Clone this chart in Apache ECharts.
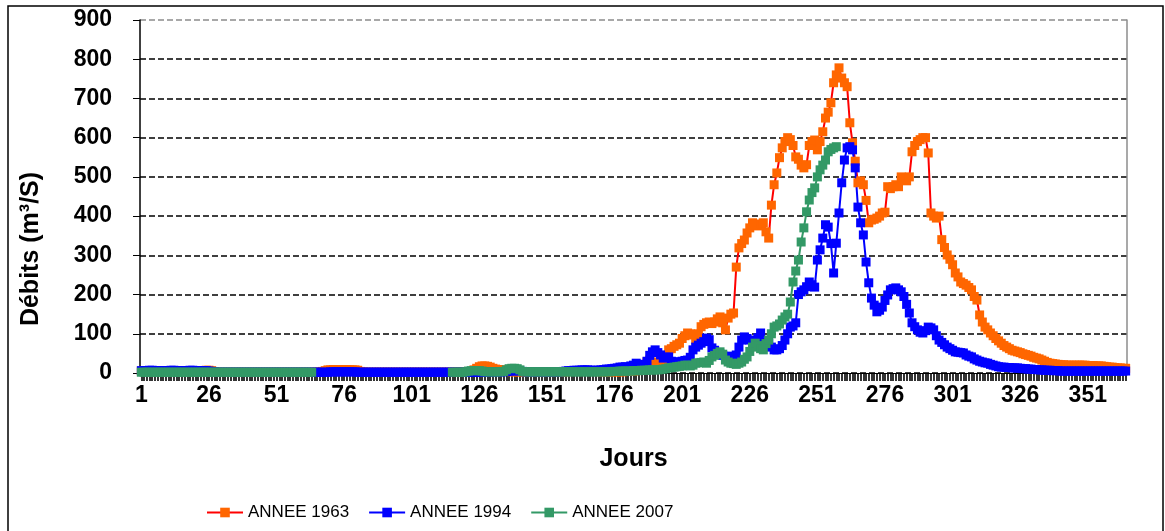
<!DOCTYPE html>
<html>
<head>
<meta charset="utf-8">
<script src="https://cdn.jsdelivr.net/npm/echarts@6/dist/echarts.min.js"></script>
<style>
html,body{margin:0;padding:0;background:#fff;}
#c{width:1165px;height:531px;}
</style>
</head>
<body>
<div id="c"></div>
<script>
// Days of the year (category axis)
const days = Array.from({length: 365}, (_, i) => String(i + 1));

const seriesNames = ['ANNEE 1963', 'ANNEE 1994', 'ANNEE 2007'];
const yAxisTitle = 'Débits (m³/S)';
const xAxisTitle = 'Jours';

// ANNEE 1963 (day 1..365)
const annee1963 = [
  5,5,6,6,5,5,5,5,6,6,            // 1-10
  6,5,5,5,5,5,6,6,6,6,            // 11-20
  5,5,5,6,7,7,6,3,2,2,            // 21-30
  2,2,2,2,2,2,2,2,2,2,            // 31-40
  2,2,2,2,2,2,2,2,2,2,            // 41-50
  2,2,2,2,2,2,2,2,2,2,            // 51-60
  2,2,2,2,2,2,3,4,6,8,            // 61-70
  8,9,9,9,9,9,9,8,8,8,            // 71-80
  7,4,3,2,2,2,2,2,2,2,            // 81-90
  2,2,2,2,2,2,2,2,2,2,            // 91-100
  2,2,2,2,2,2,2,2,2,2,            // 101-110
  2,2,2,2,2,2,3,3,3,3,            // 111-120
  3,3,4,8,12,16,18,18,17,15,      // 121-130
  12,10,9,8,8,5,4,3,3,3,          // 131-140
  3,3,3,3,3,3,3,3,3,3,            // 141-150
  3,3,3,3,3,3,3,3,4,4,            // 151-160
  5,5,6,6,6,6,6,5,5,4,            // 161-170
  3,3,3,3,3,3,3,3,3,4,            // 171-180
  4,5,5,6,7,8,15,28,33,28,        // 181-190
  22,20,25,30,45,59,62,68,72,76,  // 191-200
  88,95,102,100,97,84,100,118,124,128,   // 201-210
  130,126,130,138,143,128,110,140,150,153, // 211-220
  270,319,330,339,357,370,383,378,375,380, // 221-230
  383,360,344,428,480,510,549,574,590,600, // 231-240
  595,580,551,545,530,523,531,580,590,594, // 241-250
  569,590,615,650,665,689,740,760,778,752, // 251-260
  740,730,638,587,540,485,490,480,440,383, // 261-270
  390,392,395,400,408,410,475,470,475,480, // 271-280
  475,500,495,490,500,564,580,590,595,600, // 281-290
  600,561,408,400,395,400,340,320,301,290, // 291-300
  276,255,245,232,228,224,218,212,195,186, // 301-310
  148,130,117,110,102,95,88,82,76,70,      // 311-320
  66,62,58,56,54,52,49,47,45,43,           // 321-330
  40,38,36,33,30,27,25,24,23,22,           // 331-340
  21,21,20,20,20,20,20,20,20,20,           // 341-350
  19,19,19,18,18,18,17,16,15,15,           // 351-360
  14,13,13,12,12                           // 361-365
];

// ANNEE 1994 (day 1..365)
const annee1994 = [
  6,6,6,7,7,6,6,6,6,6,            // 1-10
  6,7,7,6,6,6,6,6,7,7,            // 11-20
  6,6,6,6,6,5,4,3,2,2,            // 21-30
  2,2,2,2,2,2,2,2,2,2,            // 31-40
  2,2,2,2,2,2,2,2,2,2,            // 41-50
  2,2,2,2,2,2,2,2,2,2,            // 51-60
  2,2,2,2,2,2,2,2,2,2,            // 61-70
  3,3,3,3,3,3,3,3,3,3,            // 71-80
  2,2,2,2,2,2,2,2,2,2,            // 81-90
  2,2,2,2,2,2,2,2,2,2,            // 91-100
  2,2,2,2,2,2,2,2,2,2,            // 101-110
  2,2,2,2,2,2,2,2,2,2,            // 111-120
  2,2,2,2,2,2,2,2,2,3,            // 121-130
  3,3,3,3,3,4,5,5,6,6,            // 131-140
  5,4,3,3,3,3,3,3,3,3,            // 141-150
  3,3,3,3,3,3,4,5,6,6,            // 151-160
  7,7,7,8,8,8,7,7,7,7,            // 161-170
  8,9,10,10,11,12,13,15,15,16,    // 171-180
  15,18,20,25,22,20,22,30,45,54,  // 181-190
  59,52,46,38,40,41,30,28,28,28,  // 191-200
  30,32,33,40,59,66,71,76,80,89,  // 201-210
  85,64,58,51,48,45,41,43,40,38,  // 211-220
  46,66,84,92,88,84,70,76,90,102, // 221-230
  80,71,76,66,59,59,62,70,84,100, // 231-240
  117,120,128,200,207,212,220,232,225,219, // 241-250
  288,314,344,378,372,330,255,331,408,485, // 251-260
  543,574,577,569,523,423,383,352,283,230, // 261-270
  191,173,156,160,168,185,199,212,215,217, // 271-280
  212,207,195,175,153,128,118,110,104,102, // 281-290
  108,117,115,110,95,84,78,72,66,62,       // 291-300
  58,54,53,52,51,46,43,41,36,33,           // 301-310
  30,28,26,25,22,20,18,16,15,15,           // 311-320
  14,14,13,13,13,12,11,11,10,10,           // 321-330
  9,9,8,8,7,7,7,6,6,6,                     // 331-340
  5,5,5,5,5,5,5,5,5,5,                     // 341-350
  5,5,5,5,5,5,5,5,5,5,                     // 351-360
  5,5,5,5,5                                // 361-365
];

// ANNEE 2007 (day 1..258; no data for days 65-115 and after 258)
const annee2007 = [
  2,2,2,2,2,2,2,2,2,2,            // 1-10
  2,2,2,2,2,2,2,2,2,2,            // 11-20
  2,2,2,2,2,2,2,2,2,2,            // 21-30
  2,2,2,2,2,2,2,2,2,2,            // 31-40
  2,2,2,2,2,2,2,2,2,2,            // 41-50
  2,2,2,2,2,2,2,2,2,2,            // 51-60
  2,2,2,2,null,null,null,null,null,null, // 61-70
  null,null,null,null,null,null,null,null,null,null, // 71-80
  null,null,null,null,null,null,null,null,null,null, // 81-90
  null,null,null,null,null,null,null,null,null,null, // 91-100
  null,null,null,null,null,null,null,null,null,null, // 101-110
  null,null,null,null,null,2,2,2,2,2,    // 111-120
  3,5,6,6,6,6,5,3,3,3,            // 121-130
  3,3,3,3,4,8,11,12,12,11,        // 131-140
  8,4,3,3,3,3,3,3,3,3,            // 141-150
  3,3,3,3,3,3,3,3,3,3,            // 151-160
  3,3,3,3,3,3,3,3,3,3,            // 161-170
  3,3,3,3,4,4,4,5,5,5,            // 171-180
  5,5,6,6,6,7,7,7,8,8,            // 181-190
  8,8,9,10,11,13,14,15,16,17,     // 191-200
  18,20,20,18,20,25,26,27,28,25,  // 201-210
  32,41,45,50,54,48,33,28,25,24,  // 211-220
  22,25,28,35,41,55,66,76,70,62,  // 221-230
  59,75,84,100,117,120,125,135,143,150,    // 231-240
  181,232,260,288,334,370,411,441,460,472, // 241-250
  500,518,530,543,564,570,574,577          // 251-258
];

const yTicks = {min: 0, max: 900, step: 100};

const FONT = 'Liberation Sans, Arial, sans-serif';
const chart = echarts.init(document.getElementById('c'), null, {renderer: 'canvas'});

const gridColors = ['#000','#000','#000','#000','#000','#000','#000','#000','#000','#8c8c8c'];

chart.setOption({
  animation: false,
  backgroundColor: '#fff',
  textStyle: {fontFamily: FONT},
  graphic: [{
    type: 'rect',
    shape: {x: 8, y: 6, width: 1155, height: 560},
    style: {fill: 'none', stroke: '#000', lineWidth: 1.5},
    silent: true, z: -1
  }, {
    type: 'text',
    x: 31, y: 249,
    rotation: Math.PI / 2,
    silent: true,
    style: {
      text: yAxisTitle,
      font: 'bold 25px ' + FONT,
      fill: '#000',
      textAlign: 'center',
      textVerticalAlign: 'middle'
    }
  }],
  grid: {left: 140, right: 38, top: 20, bottom: 158, containLabel: false},
  legend: {
    data: seriesNames,
    left: 201, top: 499,
    itemWidth: 36, itemHeight: 12, itemGap: 19,
    textStyle: {fontSize: 17, fontFamily: FONT, color: '#000'}
  },
  xAxis: {
    type: 'category',
    data: days,
    boundaryGap: true,
    name: xAxisTitle,
    nameLocation: 'middle',
    nameGap: 74,
    nameTextStyle: {fontSize: 25, fontWeight: 'bold', color: '#000', fontFamily: FONT},
    axisLine: {lineStyle: {color: '#000', width: 1}},
    axisTick: {show: true, interval: 0, alignWithLabel: true, length: 8, lineStyle: {color: '#000', width: 1.6}},
    axisLabel: {interval: 24, margin: 11, fontSize: 23, fontWeight: 'bold', color: '#000', fontFamily: FONT},
    splitLine: {show: false}
  },
  yAxis: [{
    type: 'value',
    min: yTicks.min, max: yTicks.max, interval: yTicks.step,
    axisLine: {show: true, lineStyle: {color: '#000', width: 1.5}},
    axisTick: {show: true, length: 7, lineStyle: {color: '#000', width: 1}},
    axisLabel: {margin: 28, fontSize: 23, fontWeight: 'bold', color: '#000', fontFamily: FONT},
    splitLine: {show: true, lineStyle: {color: gridColors, width: 1.5, type: [6, 3]}}
  }, {
    type: 'value',
    position: 'right',
    min: yTicks.min, max: yTicks.max, interval: yTicks.step,
    axisLine: {show: true, lineStyle: {color: '#8c8c8c', width: 1.5}},
    axisTick: {show: false},
    axisLabel: {show: false},
    splitLine: {show: false}
  }],
  series: [{
    name: seriesNames[0], type: 'line', data: annee1963,
    symbol: 'rect', symbolSize: 9, showSymbol: true, showAllSymbol: true,
    itemStyle: {color: '#FF6600'},
    lineStyle: {color: '#FF0000', width: 2},
    connectNulls: false
  }, {
    name: seriesNames[1], type: 'line', data: annee1994,
    symbol: 'rect', symbolSize: 9, showSymbol: true, showAllSymbol: true,
    itemStyle: {color: '#0000FF'},
    lineStyle: {color: '#0000FF', width: 2},
    connectNulls: false
  }, {
    name: seriesNames[2], type: 'line', data: annee2007,
    symbol: 'rect', symbolSize: 9, showSymbol: true, showAllSymbol: true,
    itemStyle: {color: '#339966'},
    lineStyle: {color: '#339966', width: 2},
    connectNulls: false
  }]
});
</script>
</body>
</html>
